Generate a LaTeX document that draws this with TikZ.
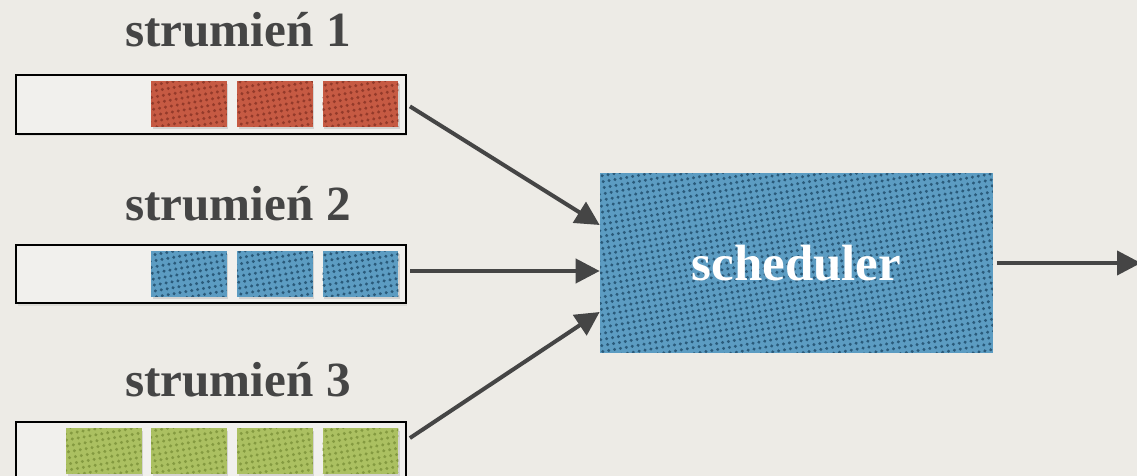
\documentclass[tikz,border=0pt]{standalone}
\usepackage{fontspec}
\setmainfont{Liberation Serif}
\usetikzlibrary{positioning,arrows.meta,patterns.meta,shadows}
\definecolor{paper}{HTML}{EDEBE6}
\definecolor{slot}{HTML}{F1F0ED}
\definecolor{ink}{HTML}{454545}
\definecolor{pktred}{HTML}{C65A43}
\definecolor{pktreddot}{HTML}{943A2A}
\definecolor{pktblue}{HTML}{5C9CC2}
\definecolor{pktbluedot}{HTML}{2A5A7A}
\definecolor{pktgreen}{HTML}{ABC061}
\definecolor{pktgreendot}{HTML}{849A40}
\tikzset{
  stream/.style={draw=black, line width=0.04cm, fill=slot, minimum width=7.8cm, minimum height=1.18cm, inner sep=0pt,
                 drop shadow={opacity=0.15, shadow xshift=0.03cm, shadow yshift=-0.05cm}},
  qlabel/.style={font=\fontsize{28}{32}\selectfont\bfseries, text=ink, inner sep=0pt},
  packet/.style={minimum width=1.52cm, minimum height=0.92cm, inner sep=0pt,
                 drop shadow={opacity=0.25, shadow xshift=0.03cm, shadow yshift=-0.05cm}},
  redpkt/.style={packet, fill=pktred, postaction={pattern={Dots[radius=0.95pt, distance=3.4pt, angle=10]}, pattern color=pktreddot}},
  bluepkt/.style={packet, fill=pktblue, postaction={pattern={Dots[radius=0.95pt, distance=3.4pt, angle=10]}, pattern color=pktbluedot}},
  greenpkt/.style={packet, fill=pktgreen, postaction={pattern={Dots[radius=0.95pt, distance=3.4pt, angle=10]}, pattern color=pktgreendot}},
  sched/.style={fill=pktblue, postaction={pattern={Dots[radius=0.95pt, distance=3.4pt, angle=10]}, pattern color=pktbluedot},
                minimum width=7.86cm, minimum height=3.6cm, inner sep=0pt, text=white,
                font=\fontsize{29}{32}\selectfont\bfseries},
  flow/.style={draw=ink, line width=0.08cm, -{Triangle[length=0.48cm, width=0.48cm]}, shorten <=2pt},
}

\begin{document}
\begin{tikzpicture}[x=0.02cm, y=-0.02cm]
  \useasboundingbox (0,0) rectangle (1137,476);
  \fill[paper] (0,0) rectangle (1137,476);

  % three input streams
  \node[stream] (q1) at (211,104.5) {};
  \node[stream] (q2) at (211,274) {};
  \node[stream] (q3) at (211,451.5) {};
  \node[qlabel, anchor=base] (l1) at (238,47) {strumień 1};
  \node[qlabel, anchor=base] (l2) at (238,221) {strumień 2};
  \node[qlabel, anchor=base] (l3) at (238,397) {strumień 3};

  % queued packets
  \foreach \x [count=\i] in {189,275,360.5} {
    \node[redpkt] (r\i) at (\x,104) {};
    \node[bluepkt] (b\i) at (\x,274) {};
  }
  \foreach \x [count=\i] in {104,189,275,360.5}
    \node[greenpkt] (g\i) at (\x,451) {};

  \node[sched] (sched) at (796.5,263) {scheduler};
  \coordinate (out) at (1141,263);

  \draw[flow] (q1.east) -- ([yshift=0.76cm]sched.west);
  \draw[flow] ([yshift=0.06cm]q2.east) -- ([yshift=0.06cm]q2.east -| sched.west);
  \draw[flow] ([yshift=0.23cm]q3.east) -- ([yshift=-0.98cm]sched.west);
  \draw[flow] (sched.east) -- (out);
\end{tikzpicture}
\end{document}
